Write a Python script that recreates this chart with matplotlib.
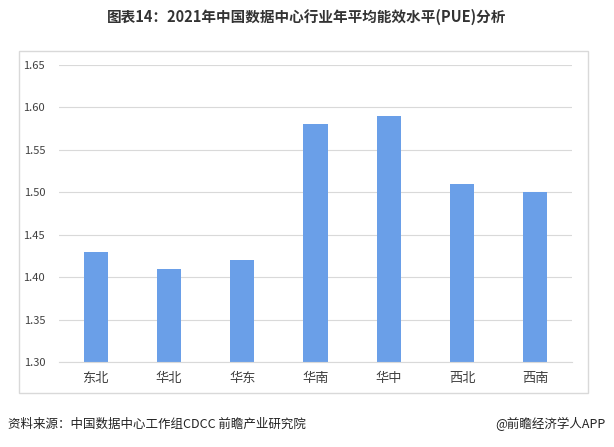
import matplotlib.pyplot as plt
from matplotlib.patches import Rectangle
import numpy as np

plt.rcParams['font.family'] = ['Noto Sans CJK SC', 'DejaVu Sans']

regions = ['东北', '华北', '华东', '华南', '华中', '西北', '西南']
pue = [1.43, 1.41, 1.42, 1.58, 1.59, 1.51, 1.50]
yticks = [1.30, 1.35, 1.40, 1.45, 1.50, 1.55, 1.60, 1.65]

W, H = 614, 447
fig = plt.figure(figsize=(W / 100, H / 100), dpi=100)

# outer frame of the chart area
fig.patches.append(Rectangle((19 / W, 1 - 393 / H), (588 - 19) / W, (393 - 51) / H,
                             transform=fig.transFigure, fill=False,
                             edgecolor='#d9d9d9', linewidth=1))

ax = fig.add_axes([59 / W, 1 - 362 / H, (572 - 59) / W, (362 - 65) / H])
x = np.arange(len(regions))
ax.bar(x, pue, width=0.33, color='#6a9fe8', zorder=2)

ax.set_ylim(1.30, 1.65)
ax.set_xlim(-0.5, len(regions) - 0.5)
ax.set_yticks(yticks)
ax.set_yticklabels(['%.2f' % v for v in yticks], fontsize=8, color='#404040')
ax.set_xticks(x)
ax.set_xticklabels(regions, fontsize=9.5, color='#404040')
ax.grid(axis='y', color='#d9d9d9', linewidth=0.8, zorder=0)
for s in ['top', 'right', 'left']:
    ax.spines[s].set_visible(False)
ax.spines['bottom'].set_color('#d9d9d9')
ax.tick_params(axis='both', length=0)
ax.tick_params(axis='y', pad=10)
ax.tick_params(axis='x', pad=7)

fig.text(0.5, 1 - 17 / H, '图表14：2021年中国数据中心行业年平均能效水平(PUE)分析',
         ha='center', va='center', fontsize=10.5, fontweight='bold', color='#333333')
fig.text(8 / W, 1 - 424 / H, '资料来源：中国数据中心工作组CDCC 前瞻产业研究院',
         ha='left', va='center', fontsize=9, color='#222222')
fig.text(606 / W, 1 - 424 / H, '@前瞻经济学人APP',
         ha='right', va='center', fontsize=9, color='#222222')

fig.savefig('out.png', dpi=100)
